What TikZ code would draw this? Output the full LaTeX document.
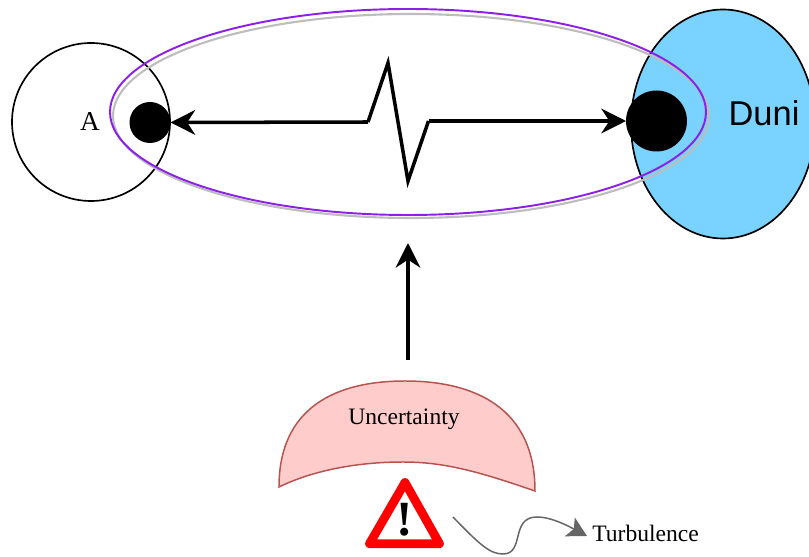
\documentclass[tikz,border=0pt]{standalone}
\usepackage{fontspec}
\setmainfont{Liberation Serif}
\newfontfamily\dunifont{Liberation Sans}
\usetikzlibrary{arrows.meta,shapes.geometric}
\definecolor{orbitpurple}{HTML}{8C1FE8}
\definecolor{orbitgray}{HTML}{BDBDBD}
\definecolor{dunifill}{HTML}{7AD2FF}
\definecolor{uncertfill}{HTML}{FFCCCC}
\definecolor{uncertline}{HTML}{B85450}
\tikzset{
  body/.style={draw, circle, line width=0.95pt, inner sep=0, outer sep=0},
  blob/.style={circle, fill=black, inner sep=0, outer sep=0},
  orbit/.style={draw, ellipse, inner sep=0, outer sep=0, minimum width=11.92cm},
  label/.style={font=\fontsize{13.4}{16}\selectfont, inner sep=0},
  bigarrow/.style={line width=2pt, -{Stealth[length=14pt,width=14pt,inset=4.5pt]}}
}

\begin{document}
\begin{tikzpicture}
  \useasboundingbox (0,0) rectangle (16.18,11.14);

  \node[body, minimum size=3.16cm] (planeta) at (1.82,8.70) {};
  \node[body, ellipse, fill=dunifill, minimum width=3.68cm, minimum height=4.58cm] (duni) at (14.46,8.66) {};
  \node[orbit, orbitgray, line width=1.2pt, minimum height=4.08cm] (orbitb) at (8.22,8.82) {};
  \node[orbit, orbitpurple, line width=1.1pt, minimum height=4.12cm] (orbita) at (8.16,8.90) {};
  \node[blob, minimum size=0.82cm] (dota) at (3.0,8.69) {};
  \node[blob, minimum size=1.22cm] (dotb) at (13.13,8.72) {};

  \node[label, font=\fontsize{15.5}{18}\selectfont] (alabel) at (1.80,8.70) {A};
  \node[font=\dunifont\fontsize{19.6}{23}\selectfont, inner sep=0] (dunilabel) at (15.28,8.88) {Duni};

  \coordinate (z1) at (7.36,8.70);
  \coordinate (z2) at (7.76,9.88);
  \coordinate (z3) at (8.16,7.52);
  \coordinate (z4) at (8.57,8.72);
  \draw[line width=2pt, line join=miter] (z1) -- (z2) -- (z3) -- (z4);
  \draw[bigarrow] (z1) -- (dota.east);
  \draw[bigarrow] (z4) -- (dotb.west);

  \coordinate (upstart) at (8.16,3.94);
  \coordinate (upend) at (8.16,6.28);
  \draw[bigarrow] (upstart) -- (upend);

  \draw[uncertline, fill=uncertfill, line width=0.85pt, line join=miter]
    (5.58,1.40) .. controls (5.58,2.98) and (6.7,3.52) .. (8.10,3.52)
    .. controls (9.5,3.52) and (10.7,2.98) .. (10.70,1.32)
    .. controls (9.6,1.7) and (8.9,1.9) .. (8.06,1.90)
    .. controls (7.2,1.9) and (6.3,1.75) .. (5.58,1.40) -- cycle;
  \node[label] (uncertainty) at (8.08,2.76) {Uncertainty};

  \draw[red, fill=white, line width=5pt, line join=round]
    (8.10,1.49) -- (7.39,0.266) -- (8.79,0.266) -- cycle;
  \node[font=\bfseries\fontsize{28}{30}\selectfont, inner sep=0] (warn) at (8.10,0.74) {!};

  \node[label, anchor=west] (turbulence) at (11.84,0.48) {Turbulence};
  \coordinate (wavestart) at (9.06,0.80);
  \coordinate (waveend) at (11.74,0.42);
  \draw[black!60, line width=0.85pt, -{Stealth[length=11pt,width=12pt,inset=2.5pt]}]
    (wavestart) .. controls (9.6,0.24) and (9.8,0.06) .. (10.06,0.06)
    .. controls (10.5,0.06) and (10.2,0.8) .. (10.74,0.80)
    .. controls (11.04,0.8) and (11.4,0.6) .. (waveend);
\end{tikzpicture}
\end{document}
